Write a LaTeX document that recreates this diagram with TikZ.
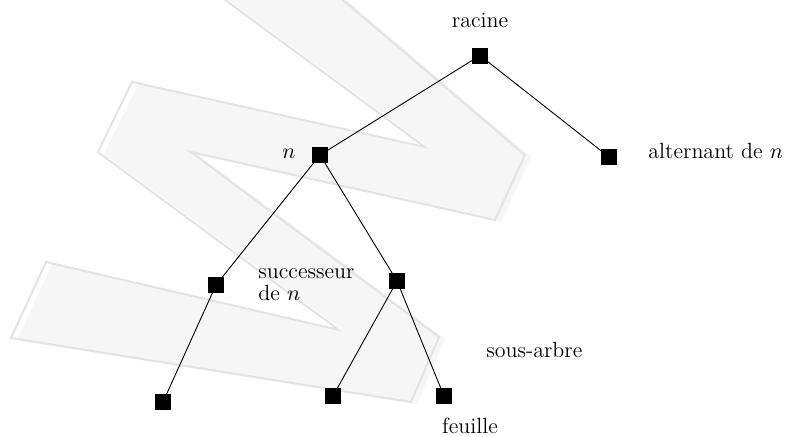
\documentclass[tikz,border=0pt]{standalone}
\usetikzlibrary{positioning}
\definecolor{shapefill}{HTML}{F6F6F6}
\definecolor{shapeline}{HTML}{E3E3E3}
\tikzset{
  leafsq/.style={fill=black, draw=none, minimum size=8pt, inner sep=0pt, outer sep=0pt},
  edge/.style={draw=black, line width=0.45pt},
  lbl/.style={inner sep=0pt, font=\fontsize{11}{13}\selectfont},
}
\begin{document}
\begin{tikzpicture}[x=0.5pt, y=-0.5pt]
\useasboundingbox (0,0) rectangle (786,436);
\begin{scope}
\clip (0,0) rectangle (786,436);
\fill[shapefill, shift={(6,2)}] (171,-40) -- (425,147) -- (132,82) -- (98,152) -- (339,330) -- (46,262) -- (11,338) -- (411,402) -- (439,337) -- (191,152) -- (495,220) -- (525,155) -- (296,-40) -- cycle;
\draw[shapeline, line width=1pt, line join=miter] (171,-40) -- (425,147) -- (132,82) -- (98,152) -- (339,330) -- (46,262) -- (11,338) -- (411,402) -- (439,337) -- (191,152) -- (495,220) -- (525,155) -- (296,-40) -- cycle;
\end{scope}

\node[leafsq] (root) at (480,55.5) {};
\node[leafsq] (alt)  at (609,157) {};
\node[leafsq] (n)    at (320,155) {};
\node[leafsq] (lc)   at (216,285) {};
\node[leafsq] (rc)   at (397,281) {};
\node[leafsq] (ll)   at (163,402) {};
\node[leafsq] (rl)   at (333,396) {};
\node[leafsq] (rr)   at (444,396) {};

\draw[edge] (root.center) -- (n.center);
\draw[edge] (root.center) -- (alt.center);
\draw[edge] (n.center) -- (lc.center);
\draw[edge] (n.center) -- (rc.center);
\draw[edge] (lc.center) -- (ll.center);
\draw[edge] (rc.center) -- (rl.center);
\draw[edge] (rc.center) -- (rr.center);

\node[lbl, anchor=base] (tracine) at (480,27) {racine};
\node[lbl, anchor=base east] (tn) at (296,158) {$n$};
\node[lbl, anchor=base west] (talt) at (648,158) {alternant de $n$};
\node[lbl, anchor=base west] (tsucc) at (258,278) {successeur};
\node[lbl, anchor=base west] (tden) at (258,300) {de $n$};
\node[lbl, anchor=base west] (tsous) at (486,357) {sous-arbre};
\node[lbl, anchor=base] (tfeuille) at (470,433) {feuille};
\end{tikzpicture}
\end{document}
